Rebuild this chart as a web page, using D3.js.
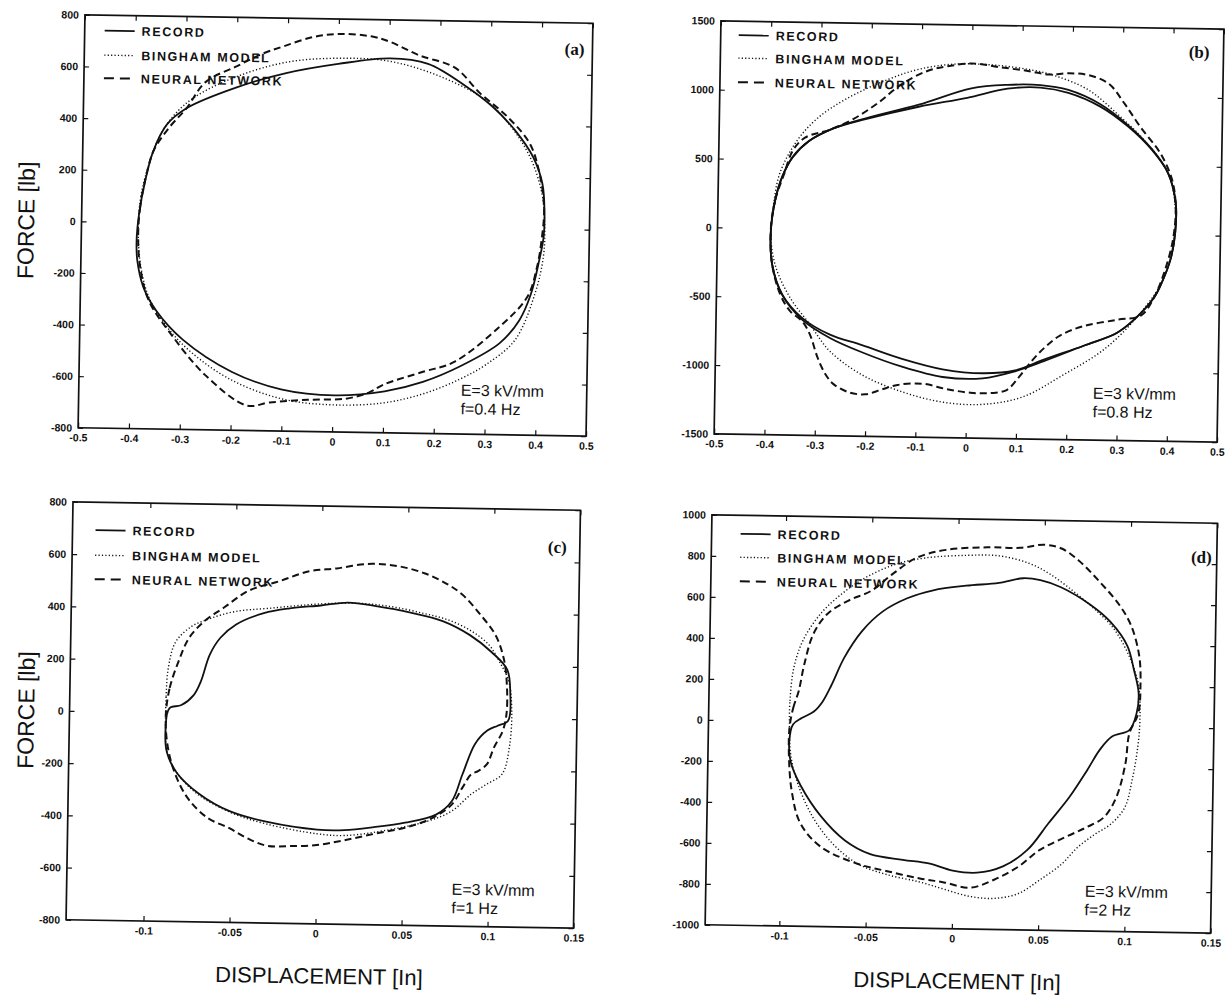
<!DOCTYPE html>
<html>
<head>
<meta charset="utf-8">
<script src="https://cdn.jsdelivr.net/npm/d3@7"></script>
<style>
  body { margin: 0; background: #fff; }
  text { font-family: "Liberation Sans", Arial, sans-serif; fill: #111; }
</style>
</head>
<body>
<div id="chart"></div>
<script>
// ticks
const xTicksAB = [-0.5, -0.4, -0.3, -0.2, -0.1, 0, 0.1, 0.2, 0.3, 0.4, 0.5];
const xTicksCD = [-0.1, -0.05, 0, 0.05, 0.1, 0.15];
const yTicksA = [-800, -600, -400, -200, 0, 200, 400, 600, 800];
const yTicksB = [-1500, -1000, -500, 0, 500, 1000, 1500];
const yTicksC = [-800, -600, -400, -200, 0, 200, 400, 600, 800];
const yTicksD = [-1000, -800, -600, -400, -200, 0, 200, 400, 600, 800, 1000];

const legendNames = ["RECORD", "BINGHAM MODEL", "NEURAL NETWORK"];
const fieldText = "E=3 kV/mm";
const freqText = ["f=0.4 Hz", "f=0.8 Hz", "f=1 Hz", "f=2 Hz"];

// (a) E=3 kV/mm, f=0.4 Hz   [displacement in, force lb]
const recordA = [[-0.391,-71],[-0.387,32],[-0.376,161],[-0.361,277],[-0.335,381],[-0.297,445],[-0.199,529],[-0.102,587],[0,626],[0.102,651],[0.177,632],[0.252,548],[0.305,471],[0.350,381],[0.387,277],[0.406,174],[0.411,58],[0.410,-32],[0.402,-123],[0.387,-252],[0.365,-355],[0.327,-445],[0.252,-535],[0.177,-600],[0.102,-639],[0.004,-658],[-0.102,-638],[-0.199,-574],[-0.297,-452],[-0.350,-342],[-0.376,-252],[-0.389,-148]];
const binghamA = [[-0.388,-20],[-0.384,100],[-0.370,220],[-0.350,330],[-0.320,420],[-0.280,490],[-0.200,570],[-0.100,630],[0,648],[0.100,640],[0.200,585],[0.290,497],[0.340,400],[0.380,280],[0.405,140],[0.412,0],[0.410,-110],[0.395,-250],[0.357,-432],[0.300,-530],[0.250,-587],[0.180,-645],[0.100,-684],[0,-695],[-0.100,-675],[-0.200,-605],[-0.280,-500],[-0.330,-400],[-0.365,-290],[-0.383,-160]];
const neuralA = [[-0.388,-60],[-0.385,60],[-0.372,200],[-0.360,280],[-0.330,370],[-0.297,445],[-0.260,548],[-0.200,610],[-0.150,660],[-0.109,690],[-0.049,729],[0.004,742],[0.064,735],[0.100,716],[0.160,664],[0.230,619],[0.280,522],[0.335,432],[0.380,329],[0.400,213],[0.410,80],[0.406,-45],[0.398,-148],[0.380,-264],[0.327,-380],[0.237,-522],[0.177,-561],[0.100,-613],[0.071,-645],[0.026,-670],[-0.049,-677],[-0.124,-690],[-0.169,-703],[-0.252,-587],[-0.320,-432],[-0.365,-303],[-0.383,-174]];

// (b) f=0.8 Hz
const recordB = [[-0.394,-29],[-0.386,209],[-0.373,376],[-0.353,519],[-0.321,638],[-0.273,733],[-0.209,804],[-0.104,900],[-0.008,971],[0.072,1042],[0.137,1054],[0.193,1019],[0.257,923],[0.313,781],[0.361,614],[0.394,447],[0.410,233],[0.410,19],[0.402,-171],[0.386,-338],[0.370,-457],[0.330,-624],[0.297,-719],[0.233,-814],[0.153,-921],[0.096,-1004],[0.032,-1028],[-0.048,-1004],[-0.129,-933],[-0.209,-838],[-0.273,-766],[-0.329,-647],[-0.369,-481],[-0.390,-267]];
const recordB2 = [[-0.394,-29],[-0.386,209],[-0.373,376],[-0.353,519],[-0.321,638],[-0.273,733],[-0.209,810],[-0.104,915],[0,1040],[0.072,1070],[0.137,1072],[0.193,1040],[0.257,940],[0.313,790],[0.361,620],[0.394,447],[0.410,233],[0.410,19],[0.402,-171],[0.386,-338],[0.370,-457],[0.330,-624],[0.297,-719],[0.233,-814],[0.153,-933],[0.096,-1010],[0.032,-1065],[-0.048,-1060],[-0.129,-990],[-0.209,-890],[-0.273,-790],[-0.329,-660],[-0.369,-485],[-0.390,-267]];
const binghamB = [[-0.394,-50],[-0.390,150],[-0.378,400],[-0.345,638],[-0.305,804],[-0.249,947],[-0.169,1090],[-0.104,1173],[-0.030,1215],[0.050,1210],[0.120,1180],[0.169,1138],[0.233,1042],[0.297,852],[0.345,685],[0.394,447],[0.410,162],[0.406,-76],[0.386,-338],[0.337,-600],[0.273,-838],[0.193,-1028],[0.112,-1195],[0.032,-1254],[-0.048,-1242],[-0.129,-1171],[-0.209,-1052],[-0.273,-885],[-0.313,-695],[-0.353,-505],[-0.383,-280]];
const neuralB = [[-0.394,-10],[-0.386,209],[-0.369,400],[-0.353,566],[-0.329,662],[-0.281,721],[-0.233,804],[-0.185,923],[-0.137,1066],[-0.088,1161],[-0.048,1197],[0,1221],[0.056,1197],[0.112,1173],[0.153,1150],[0.193,1161],[0.233,1150],[0.273,1090],[0.305,947],[0.337,781],[0.378,590],[0.402,400],[0.410,209],[0.406,-29],[0.390,-267],[0.370,-457],[0.345,-588],[0.297,-624],[0.233,-671],[0.185,-743],[0.153,-838],[0.129,-933],[0.104,-1052],[0.080,-1147],[0.048,-1171],[0.008,-1171],[-0.040,-1147],[-0.088,-1111],[-0.137,-1123],[-0.169,-1159],[-0.201,-1195],[-0.233,-1183],[-0.265,-1123],[-0.281,-1052],[-0.297,-933],[-0.313,-766],[-0.329,-671],[-0.353,-600],[-0.373,-481],[-0.390,-267]];

// (c) f=1 Hz
const recordC = [[-0.089,-62],[-0.087,16],[-0.080,29],[-0.073,68],[-0.069,120],[-0.064,224],[-0.058,289],[-0.049,341],[-0.033,386],[-0.018,406],[0,419],[0.016,432],[0.033,419],[0.051,399],[0.071,367],[0.087,315],[0.100,250],[0.109,185],[0.111,94],[0.110,-10],[0.104,-30],[0.098,-49],[0.091,-101],[0.084,-218],[0.078,-322],[0.069,-374],[0.051,-407],[0.033,-426],[0.016,-439],[0,-439],[-0.029,-413],[-0.051,-374],[-0.069,-309],[-0.082,-231],[-0.088,-153]];
const binghamC = [[-0.089,-60],[-0.089,60],[-0.088,170],[-0.084,270],[-0.075,330],[-0.065,360],[-0.050,390],[-0.030,405],[0,425],[0.020,430],[0.040,420],[0.060,395],[0.075,370],[0.088,330],[0.098,280],[0.104,220],[0.110,140],[0.112,30],[0.111,-110],[0.107,-215],[0.098,-255],[0.089,-295],[0.078,-360],[0.064,-400],[0.038,-440],[0.016,-460],[0,-455],[-0.030,-420],[-0.050,-380],[-0.070,-310],[-0.082,-230],[-0.088,-150]];
const neuralC = [[-0.089,-10],[-0.087,94],[-0.082,198],[-0.076,289],[-0.067,354],[-0.056,406],[-0.042,471],[-0.024,510],[-0.007,549],[0.009,562],[0.027,581],[0.044,575],[0.060,549],[0.073,510],[0.082,471],[0.093,393],[0.102,315],[0.107,224],[0.109,120],[0.109,16],[0.107,-49],[0.102,-114],[0.098,-179],[0.093,-205],[0.089,-218],[0.084,-270],[0.078,-335],[0.067,-387],[0.051,-426],[0.033,-452],[0.016,-478],[0,-498],[-0.016,-504],[-0.029,-504],[-0.040,-478],[-0.051,-439],[-0.064,-400],[-0.076,-322],[-0.084,-218],[-0.088,-114]];

// (d) f=2 Hz
const recordD = [[-0.096,-99],[-0.094,-16],[-0.089,16],[-0.082,49],[-0.077,99],[-0.072,181],[-0.065,313],[-0.055,444],[-0.043,543],[-0.029,609],[-0.014,650],[0.005,675],[0.024,691],[0.038,716],[0.048,708],[0.060,675],[0.077,593],[0.089,510],[0.099,395],[0.103,280],[0.106,165],[0.105,66],[0.101,-16],[0.091,-49],[0.084,-115],[0.077,-214],[0.067,-346],[0.055,-477],[0.043,-609],[0.029,-691],[0.014,-724],[0,-716],[-0.014,-683],[-0.029,-667],[-0.048,-642],[-0.063,-576],[-0.077,-461],[-0.089,-313],[-0.095,-198]];
const binghamD = [[-0.096,-33],[-0.096,99],[-0.094,263],[-0.089,395],[-0.079,527],[-0.067,625],[-0.053,708],[-0.036,774],[-0.019,807],[0.005,823],[0.024,823],[0.041,790],[0.053,741],[0.067,658],[0.079,576],[0.091,477],[0.101,329],[0.106,198],[0.107,33],[0.106,-99],[0.103,-263],[0.099,-395],[0.091,-477],[0.082,-527],[0.072,-593],[0.063,-675],[0.050,-757],[0.038,-823],[0.024,-848],[0.010,-840],[-0.005,-807],[-0.019,-774],[-0.038,-741],[-0.055,-691],[-0.070,-593],[-0.082,-461],[-0.091,-296],[-0.095,-165]];
const neuralD = [[-0.096,-33],[-0.094,66],[-0.091,148],[-0.088,280],[-0.083,428],[-0.075,527],[-0.063,593],[-0.050,642],[-0.038,724],[-0.024,807],[-0.007,848],[0.017,864],[0.036,864],[0.050,881],[0.060,864],[0.070,807],[0.082,708],[0.094,593],[0.101,494],[0.106,346],[0.107,198],[0.106,66],[0.101,-33],[0.099,-181],[0.094,-346],[0.087,-444],[0.077,-494],[0.065,-543],[0.050,-609],[0.038,-691],[0.024,-757],[0.010,-798],[-0.005,-774],[-0.019,-757],[-0.038,-724],[-0.055,-691],[-0.077,-609],[-0.089,-494],[-0.094,-346],[-0.096,-181]];

const width = 1231, height = 1003;
const svg = d3.select("#chart").append("svg")
  .attr("width", width)
  .attr("height", height);

// the scan is turned slightly clockwise
const skew = 0.95;

const panels = [
  { box: [81.5, 589.5, 19, 432], xDom: [-0.5, 0.5], yDom: [-800, 800], xTicks: xTicksAB, yTicks: yTicksA,
    record: [recordA], bingham: binghamA, neural: neuralA, tag: "(a)", freq: freqText[0],
    leg: { x: 20, ys: [15.5, 40, 63] }, tagAt: [8, 26], noteAt: [382, 372], yLab: true, xLab: false },
  { box: [717.5, 1220.5, 25, 438], xDom: [-0.5, 0.5], yDom: [-1500, 1500], xTicks: xTicksAB, yTicks: yTicksB,
    record: [recordB, recordB2], bingham: binghamB, neural: neuralB, tag: "(b)", freq: freqText[1],
    leg: { x: 18, ys: [14, 37, 61] }, tagAt: [14, 23], noteAt: [378, 369], yLab: false, xLab: false },
  { box: [69.5, 577, 506, 924], xDom: [-0.145, 0.15], yDom: [-800, 800], xTicks: xTicksCD, yTicks: yTicksC,
    record: [recordC], bingham: binghamC, neural: neuralC, tag: "(c)", freq: freqText[2],
    leg: { x: 23, ys: [28, 53, 77] }, tagAt: [13, 37], noteAt: [385, 384], yLab: true, xLab: true },
  { box: [708.5, 1214, 519, 929], xDom: [-0.143, 0.15], yDom: [-1000, 1000], xTicks: xTicksCD, yTicks: yTicksD,
    record: [recordD], bingham: binghamD, neural: neuralD, tag: "(d)", freq: freqText[3],
    leg: { x: 29, ys: [18.5, 42, 66] }, tagAt: [5, 34], noteAt: [379, 373], yLab: false, xLab: true }
];

const styles = [
  { w: 1.8, dash: null },
  { w: 1.4, dash: "1.2,2.2" },
  { w: 2, dash: "7,4" }
];

const fmt = d => d === 0 ? "0" : String(d);

panels.forEach(p => {
  const [x0, x1, y0, y1] = p.box;
  const cx = (x0 + x1) / 2, cy = (y0 + y1) / 2;
  const g = svg.append("g").attr("transform", `rotate(${skew},${cx},${cy})`);

  const x = d3.scaleLinear().domain(p.xDom).range([x0, x1]);
  const y = d3.scaleLinear().domain(p.yDom).range([y1, y0]);

  // axes, MATLAB style ticks pointing inward
  const bottom = g.append("g").attr("transform", `translate(0,${y1})`)
    .call(d3.axisBottom(x).tickValues(p.xTicks).tickFormat(fmt).tickSizeInner(-5).tickSizeOuter(0).tickPadding(6));
  const left = g.append("g").attr("transform", `translate(${x0},0)`)
    .call(d3.axisLeft(y).tickValues(p.yTicks).tickFormat(fmt).tickSizeInner(-5).tickSizeOuter(0).tickPadding(6));
  g.append("g").attr("transform", `translate(0,${y0})`)
    .call(d3.axisTop(x).tickValues(p.xTicks).tickFormat("").tickSizeInner(-5).tickSizeOuter(0));
  g.append("g").attr("transform", `translate(${x1},0)`)
    .call(d3.axisRight(y).tickValues(p.yTicks).tickFormat("").tickSizeInner(-5).tickSizeOuter(0));
  g.selectAll(".domain").remove();
  g.selectAll(".tick line").attr("stroke", "#111").attr("stroke-width", 1.2);
  [bottom, left].forEach(a => a.selectAll("text")
    .attr("fill", "#111")
    .style("font-size", "10.5px")
    .style("font-weight", "bold")
    .style("font-family", "Liberation Sans, Arial, sans-serif"));

  g.append("rect")
    .attr("x", x0).attr("y", y0)
    .attr("width", x1 - x0).attr("height", y1 - y0)
    .attr("fill", "none").attr("stroke", "#111").attr("stroke-width", 1.7);

  // loops
  const line = d3.line()
    .x(d => x(d[0]))
    .y(d => y(d[1]))
    .curve(d3.curveCatmullRomClosed.alpha(0.5));

  const series = [p.record, [p.bingham], [p.neural]];
  series.forEach((loops, i) => {
    loops.forEach(pts => {
      g.append("path")
        .attr("d", line(pts))
        .attr("fill", "none")
        .attr("stroke", "#111")
        .attr("stroke-width", styles[i].w)
        .attr("stroke-dasharray", styles[i].dash);
    });
  });

  // legend
  const lg = g.append("g").attr("transform", `translate(${x0 + p.leg.x},${y0})`);
  legendNames.forEach((name, i) => {
    const ly = p.leg.ys[i];
    lg.append("line")
      .attr("x1", 0).attr("x2", 30).attr("y1", ly).attr("y2", ly)
      .attr("stroke", "#111")
      .attr("stroke-width", styles[i].w)
      .attr("stroke-dasharray", i === 2 ? "10,6" : styles[i].dash);
    lg.append("text")
      .attr("x", 37).attr("y", ly)
      .attr("dy", "0.36em")
      .style("font-size", "12.5px")
      .style("font-weight", "bold")
      .style("letter-spacing", "1.6px")
      .text(name);
  });

  // panel tag
  g.append("text")
    .attr("x", x1 - p.tagAt[0]).attr("y", y0 + p.tagAt[1])
    .attr("dy", "0.35em")
    .attr("text-anchor", "end")
    .style("font-family", "Liberation Serif, Times New Roman, serif")
    .style("font-weight", "bold")
    .style("font-size", "17px")
    .text(p.tag);

  // test condition
  g.append("text")
    .attr("x", x0 + p.noteAt[0]).attr("y", y0 + p.noteAt[1] - 3)
    .attr("dy", "0.35em")
    .style("font-size", "16px")
    .text(fieldText);
  g.append("text")
    .attr("x", x0 + p.noteAt[0]).attr("y", y0 + p.noteAt[1] + 15.5)
    .attr("dy", "0.35em")
    .style("font-size", "16px")
    .text(p.freq);

  if (p.yLab) {
    g.append("text")
      .attr("transform", `translate(26,${cy}) rotate(-90)`)
      .attr("text-anchor", "middle")
      .attr("dy", "0.35em")
      .style("font-size", "23px")
      .text("FORCE [lb]");
  }
  if (p.xLab) {
    g.append("text")
      .attr("x", cx).attr("y", y1 + 52)
      .attr("text-anchor", "middle")
      .attr("dy", "0.35em")
      .style("font-size", "22px")
      .text("DISPLACEMENT [In]");
  }
});
</script>
</body>
</html>
